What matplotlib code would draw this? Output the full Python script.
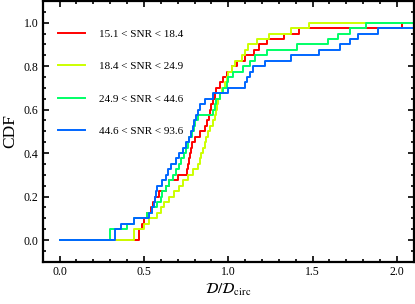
import numpy as np
import matplotlib
matplotlib.use("Agg")
import matplotlib.pyplot as plt
from matplotlib.ticker import MultipleLocator, FormatStrFormatter

plt.rcParams['font.family'] = ['Liberation Serif', 'DejaVu Serif']
plt.rcParams['mathtext.fontset'] = 'stix'

# D/D_circ samples per SNR bin (40 objects each)
labels = ['15.1 < SNR < 18.4', '18.4 < SNR < 24.9',
          '24.9 < SNR < 44.6', '44.6 < SNR < 93.6']
colors = ['#ff0000', '#ccff00', '#00ff66', '#0066ff']

red_vals = [0.47, 0.47, 0.49, 0.50, 0.52, 0.54, 0.555, 0.565, 0.59, 0.63,
            0.65, 0.70, 0.755, 0.76, 0.77, 0.775, 0.78, 0.785, 0.80, 0.83,
            0.865, 0.875, 0.885, 0.89, 0.90, 0.91, 0.92, 0.93, 0.95, 0.97,
            0.99, 1.02, 1.05, 1.10, 1.15, 1.18, 1.23, 1.33, 1.42, 2.03]
yellow_vals = [0.44, 0.44, 0.50, 0.53, 0.58, 0.60, 0.62, 0.65, 0.68, 0.71,
               0.73, 0.76, 0.79, 0.82, 0.83, 0.84, 0.85, 0.86, 0.87, 0.88,
               0.89, 0.91, 0.92, 0.93, 0.935, 0.94, 0.95, 0.96, 0.98, 0.99,
               1.00, 1.02, 1.04, 1.08, 1.10, 1.12, 1.17, 1.24, 1.37, 1.48]
green_vals = [0.30, 0.30, 0.40, 0.44, 0.52, 0.55, 0.58, 0.60, 0.61, 0.63,
              0.65, 0.67, 0.69, 0.71, 0.72, 0.74, 0.75, 0.76, 0.77, 0.785,
              0.795, 0.80, 0.82, 0.91, 0.92, 0.93, 0.95, 0.97, 0.99, 1.00,
              1.03, 1.09, 1.13, 1.16, 1.23, 1.41, 1.59, 1.65, 1.72, 1.815]
blue_vals = [0.33, 0.33, 0.365, 0.44, 0.53, 0.55, 0.56, 0.565, 0.57, 0.575,
             0.61, 0.63, 0.645, 0.66, 0.69, 0.71, 0.73, 0.75, 0.77, 0.78,
             0.79, 0.795, 0.81, 0.82, 0.83, 0.86, 0.91, 1.00, 1.10, 1.11,
             1.13, 1.145, 1.22, 1.37, 1.54, 1.66, 1.72, 1.77, 1.89, 2.50]

all_vals = [red_vals, yellow_vals, green_vals, blue_vals]

fig = plt.figure(figsize=(4.15, 3.04), dpi=100)
ax = fig.add_axes([0.103, 0.139, 0.894, 0.858])

for vals, col, lab in zip(all_vals, colors, labels):
    v = np.sort(np.array(vals))
    n = len(v)
    xs = np.concatenate([[0.0], v, [3.0]])
    ys = np.concatenate([[0.0], np.arange(1, n + 1) / n, [1.0]])
    ax.step(xs, ys, where='post', color=col, lw=1.4, label=lab)

ax.set_xlim(-0.1, 2.1)
ax.set_ylim(-0.1, 1.1)
ax.xaxis.set_major_locator(MultipleLocator(0.5))
ax.xaxis.set_minor_locator(MultipleLocator(0.1))
ax.yaxis.set_major_locator(MultipleLocator(0.2))
ax.yaxis.set_minor_locator(MultipleLocator(0.05))
ax.xaxis.set_major_formatter(FormatStrFormatter('%.1f'))
ax.yaxis.set_major_formatter(FormatStrFormatter('%.1f'))
ax.tick_params(which='both', direction='in', top=True, right=True,
               labelsize=8.5, width=1.2)
ax.tick_params(which='major', length=4)
ax.tick_params(which='minor', length=2.5)
ax.tick_params(axis='x', pad=3)
ax.tick_params(axis='y', pad=3)
for s in ax.spines.values():
    s.set_linewidth(1.6)

ax.set_xlabel(r'$\mathcal{D}/\mathcal{D}_{\rm circ}$', fontsize=11, labelpad=3)
ax.set_ylabel('CDF', fontsize=12.5, labelpad=4)

ax.legend(loc='upper left', bbox_to_anchor=(0.041, 0.893), frameon=False,
          fontsize=8, labelspacing=2.05, handlelength=2.4, handletextpad=1.3,
          borderpad=0, borderaxespad=0)

fig.savefig('out.png', dpi=100)
